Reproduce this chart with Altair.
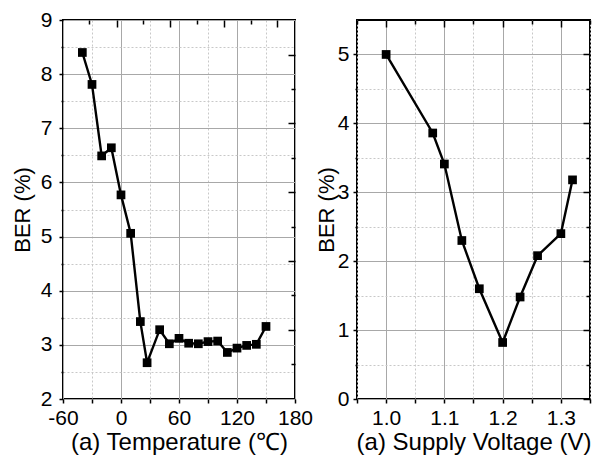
import altair as alt
import pandas as pd

# ---- data ----
temp_c = [-40, -30, -20, -10, 0, 10, 20, 27, 40, 50, 60, 70, 80, 90, 100, 110, 120, 130, 140, 150]
ber_temp = [8.40, 7.81, 6.49, 6.64, 5.77, 5.06, 3.43, 2.67, 3.28, 3.02, 3.12, 3.03, 3.02, 3.06, 3.07,
            2.86, 2.94, 2.99, 3.01, 3.34]

volt = [1.00, 1.08, 1.10, 1.13, 1.16, 1.20, 1.23, 1.26, 1.30, 1.32]
ber_volt = [5.00, 3.86, 3.41, 2.30, 1.60, 0.82, 1.48, 2.08, 2.40, 3.18]

# tick / grid values
t_major = [-60, 0, 60, 120, 180]
t_minor = [-30, 30, 90, 150]
t_top_long = [-4.5, 50.7, 106.5, 161.7]
t_top_short = [-32.8, 23.1, 78.3, 134.2]
bt_major = [2, 3, 4, 5, 6, 7, 8, 9]
bt_minor = [2.5, 3.5, 4.5, 5.5, 6.5, 7.5, 8.5]
bt_right_long = [3.28, 4.55, 5.82, 7.09, 8.35]
bt_right_short = [2.64, 3.92, 5.18, 6.46, 7.72]

v_major = [1.0, 1.1, 1.2, 1.3]
v_minor = [0.95, 1.05, 1.15, 1.25, 1.35]
bv_major = [0, 1, 2, 3, 4, 5]
bv_minor = [0.5, 1.5, 2.5, 3.5, 4.5]

df_t = pd.DataFrame({"x": temp_c, "y": ber_temp})
df_v = pd.DataFrame({"x": volt, "y": ber_volt})

FONT = "Liberation Sans"
MAJ_GRID = "#a8a8a8"
MIN_GRID = "#c8c8c8"


def blank_axis(values, orient, offset, size):
    return alt.Axis(values=values, orient=orient, offset=offset, tickSize=size,
                    tickColor="black", tickWidth=1.5, labels=False, grid=False,
                    domain=False, title=None)


def panel(df, xdom, ydom, xmaj, xmin, ymaj, ymin, xtl, xts, yrl, yrs,
          xtitle, xlabel_expr, ytitle_pad, ylabel_pad, w, h):
    xs = alt.Scale(domain=xdom, nice=False, zero=False)
    ys = alt.Scale(domain=ydom, nice=False, zero=False)
    base = alt.Chart(df)

    line = base.mark_line(color="black", strokeWidth=2.4).encode(
        x=alt.X("x:Q", scale=xs, axis=alt.Axis(
            values=xmaj, orient="bottom", title=xtitle, grid=True, gridColor=MAJ_GRID,
            gridWidth=1, tickSize=4, tickColor="black", tickWidth=1.5, domain=False,
            labelExpr=xlabel_expr, labelFontSize=21, labelPadding=4, labelFlush=False,
            labelOverlap=False, titleFontSize=24, titlePadding=2)),
        y=alt.Y("y:Q", scale=ys, axis=alt.Axis(
            values=ymaj, orient="left", title="BER (%)", grid=True, gridColor=MAJ_GRID,
            gridWidth=1, tickSize=4, tickColor="black", tickWidth=1.5, domain=False,
            labelExpr="toString(datum.value)", labelFontSize=21, labelPadding=ylabel_pad,
            labelOverlap=False, labelFlush=False, titleFontSize=22,
            titlePadding=ytitle_pad)),
    )
    pts = base.mark_square(size=76, color="black", opacity=1).encode(
        x=alt.X("x:Q", scale=xs, axis=alt.Axis(
            values=xmin, orient="bottom", title=None, grid=True, gridColor=MIN_GRID,
            gridDash=[2, 2], gridWidth=1, tickSize=4, tickColor="black", tickWidth=1.5,
            labels=False, domain=False)),
        y=alt.Y("y:Q", scale=ys, axis=alt.Axis(
            values=ymin, orient="left", title=None, grid=True, gridColor=MIN_GRID,
            gridDash=[2, 2], gridWidth=1, tickSize=2, tickColor="black", tickWidth=1.5,
            labels=False, domain=False)),
    )
    t1 = base.mark_point(opacity=0).encode(
        x=alt.X("x:Q", scale=xs, axis=blank_axis(xtl, "top", -7, 7)),
        y=alt.Y("y:Q", scale=ys, axis=blank_axis(yrl, "right", -7, 7)),
    )
    t2 = base.mark_point(opacity=0).encode(
        x=alt.X("x:Q", scale=xs, axis=blank_axis(xts, "top", -4, 4)),
        y=alt.Y("y:Q", scale=ys, axis=blank_axis(yrs, "right", -4, 4)),
    )
    return alt.layer(line, pts, t1, t2).resolve_axis(
        x="independent", y="independent").properties(width=w, height=h)


left = panel(df_t, [-60, 180], [2, 9], t_major, t_minor, bt_major, bt_minor,
             t_top_long, t_top_short, bt_right_long, bt_right_short,
             "(a) Temperature (\u2103)", "toString(datum.value)", 6, 7, 232, 379)
right = panel(df_v, [0.95, 1.35], [0, 5.5], v_major, v_minor, bv_major, bv_minor,
              v_major, v_minor, bv_major, bv_minor,
              "(a) Supply Voltage (V)", "format(datum.value, '.1f')", -1, 4, 233, 379)

chart = alt.hconcat(left, right, spacing=0).properties(
    padding={"left": 2, "top": 0, "right": 0, "bottom": 0}
).configure_axis(
    labelFont=FONT, titleFont=FONT, labelColor="black", titleColor="black",
    titleFontWeight="normal"
).configure_axisY(titleFontSize=22).configure_view(stroke="black", strokeWidth=2)

chart.save("out.html", embed_options={"renderer": "svg", "actions": False})
